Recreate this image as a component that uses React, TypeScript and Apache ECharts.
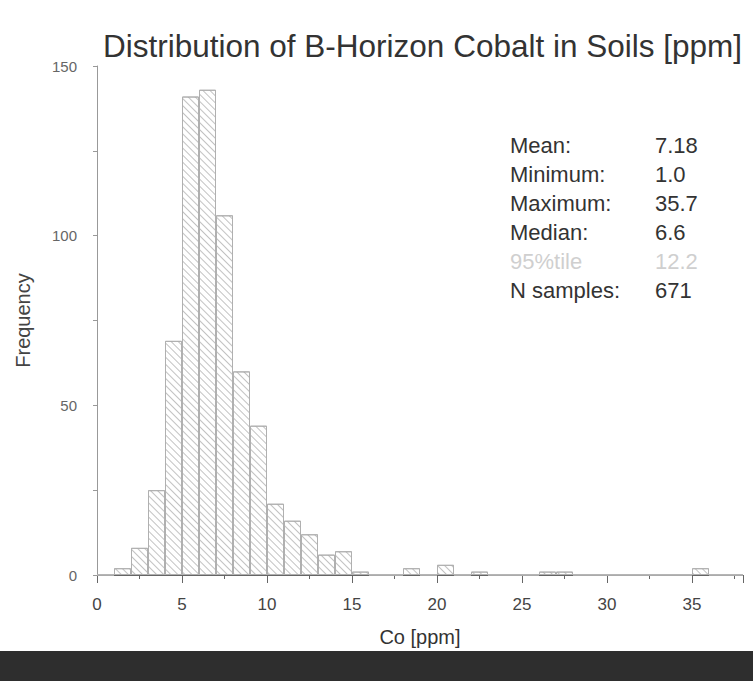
import React, { useEffect, useRef } from "react";
import * as echarts from "echarts";

const binStarts = [0,1,2,3,4,5,6,7,8,9,10,11,12,13,14,15,16,17,18,19,20,21,22,23,24,25,26,27,28,29,30,31,32,33,34,35,36,37];
const counts =    [0,2,8,25,69,141,143,106,60,44,21,16,12,6,7,1,0,0,2,0,3,0,1,0,0,0,1,1,0,0,0,0,0,0,0,2,0,0];

const statLabels = ["Mean:", "Minimum:", "Maximum:", "Median:", "95%tile", "N samples:"];
const statValues = ["7.18", "1.0", "35.7", "6.6", "12.2", "671"];
const statFaint = [false, false, false, false, true, false];

const title = "Distribution of B-Horizon Cobalt in Soils [ppm]";
const xName = "Co [ppm]";
const yName = "Frequency";

export default function App() {
  const ref = useRef<HTMLDivElement>(null);
  useEffect(() => {
    document.body.style.margin = "0";
    const chart = echarts.init(ref.current!, null, { renderer: "svg" });
    const font = "Liberation Sans, Arial, sans-serif";
    const statGraphics: any[] = [];
    statLabels.forEach((l, i) => {
      const color = statFaint[i] ? "#cfcfcf" : "#333";
      statGraphics.push({
        type: "text", left: 510, top: 134 + i * 29,
        style: { text: l, fill: color, font: `22px ${font}` },
      });
      statGraphics.push({
        type: "text", left: 655, top: 134 + i * 29,
        style: { text: statValues[i], fill: color, font: `22px ${font}` },
      });
    });
    chart.setOption({
      animation: false,
      backgroundColor: "#fff",
      title: {
        text: title, left: 103, top: 30, padding: 0,
        textStyle: { fontFamily: font, fontSize: 31.5, fontWeight: "normal", color: "#333" },
      },
      grid: { left: 97, right: 10, top: 66, bottom: 681 - 575, outerBoundsMode: "none", containLabel: false },
      xAxis: {
        type: "value", min: 0, max: 38, interval: 5,
        name: xName, nameLocation: "middle", nameGap: 52,
        nameTextStyle: { fontFamily: font, fontSize: 20, color: "#333" },
        axisLine: { lineStyle: { color: "#666", width: 1.2 } },
        axisTick: { show: true, length: 8, lineStyle: { color: "#666" } },
        minorTick: { show: true, splitNumber: 2, length: 4, lineStyle: { color: "#666" } },
        axisLabel: {
          fontFamily: font, fontSize: 17, color: "#444", margin: 21,
          showMaxLabel: false,
          formatter: (v: number) => (v % 5 === 0 ? String(v) : ""),
        },
        splitLine: { show: false },
      },
      yAxis: {
        type: "value", min: 0, max: 150, interval: 50,
        name: yName, nameLocation: "middle", nameGap: 64,
        nameTextStyle: { fontFamily: font, fontSize: 20, color: "#444" },
        axisLine: { show: true, lineStyle: { color: "#999" } },
        axisTick: { show: true, length: 4, lineStyle: { color: "#999" } },
        minorTick: { show: true, splitNumber: 2, length: 4, lineStyle: { color: "#999" } },
        axisLabel: { fontFamily: font, fontSize: 15, color: "#666", margin: 20 },
        splitLine: { show: false },
      },
      series: [{
        type: "bar",
        barWidth: 17,
        data: binStarts.map((s, i) => [s + 0.5, counts[i]]),
        itemStyle: {
          color: "#fff",
          borderColor: "#b0b0b0",
          borderWidth: 1,
          decal: {
            symbol: "rect", symbolSize: 1, color: "rgba(120,120,120,0.45)",
            dashArrayX: [1, 0], dashArrayY: [1, 4], rotation: Math.PI / 4,
          },
        },
      }],
      graphic: [
        ...statGraphics,
        { type: "rect", left: 0, top: 651, shape: { width: 753, height: 30 }, style: { fill: "#2e2e2e" } },
      ],
    });
    return () => chart.dispose();
  }, []);
  return <div ref={ref} style={{ width: 753, height: 681 }} />;
}
